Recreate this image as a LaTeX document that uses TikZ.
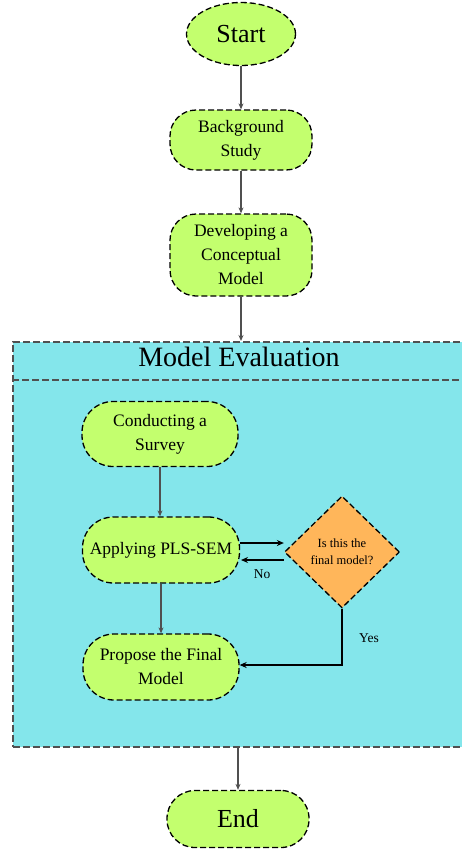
\documentclass[tikz,border=0pt]{standalone}
\usepackage{fontspec}
\setmainfont{Liberation Serif}
\usetikzlibrary{shapes.geometric,arrows.meta}
\definecolor{nodegreen}{RGB}{195,255,110}
\definecolor{boxcyan}{RGB}{132,230,235}
\definecolor{decorange}{RGB}{255,182,90}
\definecolor{linegray}{RGB}{80,80,80}
\begin{document}
\begin{tikzpicture}[x=1pt,y=-1pt,
  every node/.style={inner sep=0pt, align=center},
  proc/.style={draw=black, fill=nodegreen, dash pattern=on 6pt off 3pt, line width=1.3pt,
    rounded corners=28pt, font=\fontsize{17.5}{24}\selectfont},
  decis/.style={draw=black, fill=decorange, dash pattern=on 6pt off 3pt, line width=1.3pt,
    diamond, minimum width=115pt, minimum height=112pt, font=\fontsize{12.5}{17}\selectfont},
  outarrow/.style={draw=linegray, line width=1.3pt, -{Stealth[length=6pt,width=5pt]}},
  inarrow/.style={draw=black, line width=1.6pt, -{Stealth[length=7pt,width=6pt]}},
  lbl/.style={font=\fontsize{13.5}{15}\selectfont}
]
\useasboundingbox (0,0) rectangle (462,849);

% container
\node[draw=linegray, fill=boxcyan, dash pattern=on 7pt off 3pt, line width=1.6pt,
  minimum width=451pt, minimum height=405pt, anchor=north west] (box) at (12,341) {};
\coordinate (sepl) at (12,380);
\coordinate (sepr) at (463,380);
\draw[draw=linegray, dash pattern=on 7pt off 3pt, line width=1.6pt] (sepl) -- (sepr);
\node[font=\fontsize{28}{32}\selectfont] (title) at (239,357) {Model Evaluation};

% outer nodes
\node[ellipse, draw=black, fill=nodegreen, dash pattern=on 6pt off 3pt, line width=1.3pt,
  minimum width=109pt, minimum height=63pt, font=\fontsize{26}{30}\selectfont] (start) at (241,34) {Start};
\node[proc, minimum width=142pt, minimum height=60pt, rounded corners=26pt] (bg) at (241,140) {Background\\Study};
\node[proc, minimum width=142pt, minimum height=82pt, rounded corners=26pt] (dev) at (241,255) {Developing a\\Conceptual\\Model};
\node[proc, minimum width=142pt, minimum height=57pt, rounded corners=28pt, font=\fontsize{26}{30}\selectfont] (end) at (238,819) {End};

% inner nodes
\node[proc, minimum width=156pt, minimum height=65pt, rounded corners=31pt] (survey) at (160,434) {Conducting a\\Survey};
\node[proc, minimum width=157pt, minimum height=66pt, rounded corners=31pt] (pls) at (161,550) {Applying PLS-SEM};
\node[proc, minimum width=156pt, minimum height=66pt, rounded corners=31pt] (final) at (161,667) {Propose the Final\\Model};
\node[decis] (dec) at (342,552) {Is this the\\final model?};

% connectors
\draw[outarrow] (start) -- (bg);
\draw[outarrow] (bg) -- (dev);
\draw[outarrow] (dev.south) -- (box.north -| dev.south);
\draw[outarrow] (box.south -| end.north) -- (end.north);

\draw[outarrow] (survey) -- (survey |- pls.north);
\draw[outarrow] (pls.south) -- (pls.south |- final.north);
\coordinate (r1) at (240,543);
\coordinate (r2) at (241,560);
\draw[inarrow] (r1) -- (r1 -| dec.west);
\draw[inarrow] (r2 -| dec.west) -- (r2);
\node[lbl] (no) at (262,574) {No};
\coordinate (yescorner) at (342,665);
\draw[inarrow] (dec.south) -- (yescorner) -- (yescorner -| final.east);
\node[lbl] (yes) at (369,638) {Yes};
\end{tikzpicture}
\end{document}
